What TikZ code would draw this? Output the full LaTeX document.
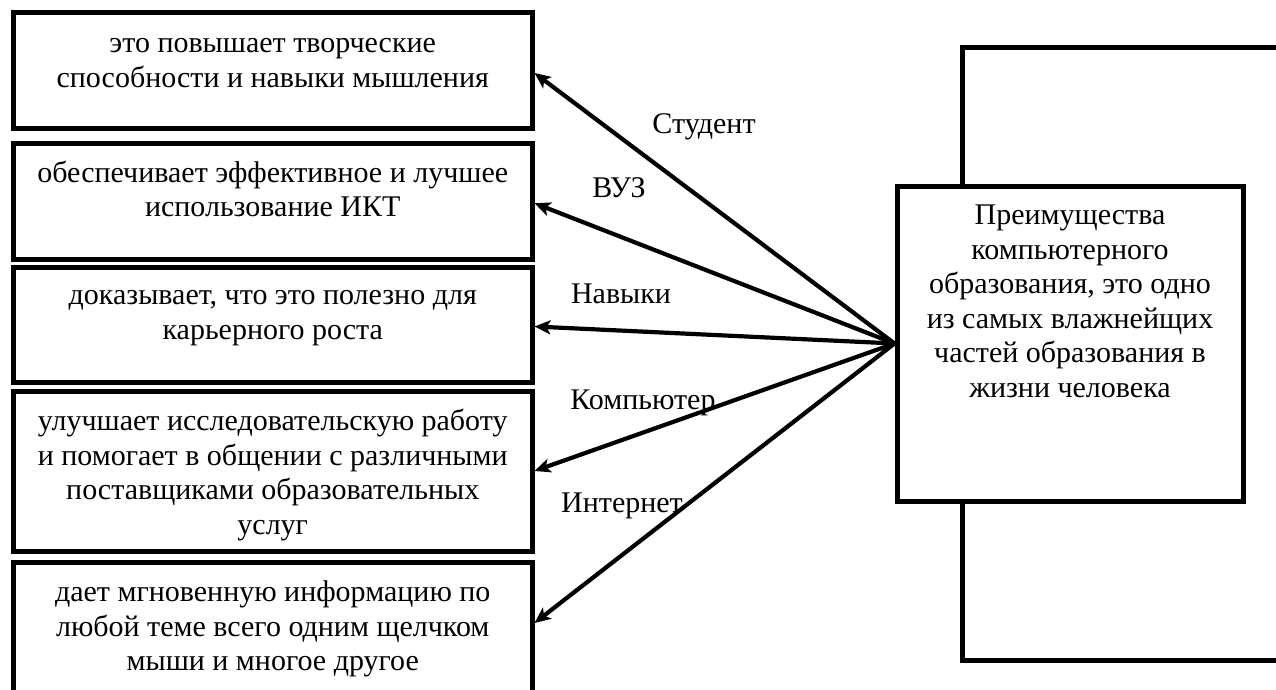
\documentclass[tikz,border=0pt]{standalone}
\usepackage{fontspec}
\setmainfont{Liberation Serif}
\usetikzlibrary{arrows.meta,calc}
\tikzset{
  box/.style={draw, line width=5pt, rectangle, inner sep=0pt, minimum width=518.5pt},
  txt/.style={align=center, font=\fontsize{30}{34.5}\selectfont, inner sep=0pt, anchor=north},
  lbl/.style={font=\fontsize{30}{34}\selectfont, inner sep=0pt, anchor=base},
  arr/.style={line width=4.2pt, -{Stealth[length=16pt,width=14pt,inset=4pt]}},
  frame/.style={line width=5pt}
}
\begin{document}
\begin{tikzpicture}[x=1pt,y=-1pt]
\useasboundingbox (0,0) rectangle (1276,690);
\clip (0,0) rectangle (1276,690);
% left boxes
\node[box, minimum height=116pt] (b1) at (272.75,71) {};
\node[box, minimum height=115.5pt] (b2) at (272.75,201.25) {};
\node[box, minimum height=115pt] (b3) at (272.75,324.5) {};
\node[box, minimum height=160pt] (b4) at (272.75,471) {};
\node[box, minimum height=158pt] (b5) at (272.75,641) {};
\node[txt] (t1) at ([yshift=-18pt]b1.north) {\strut это повышает творческие\\способности и навыки мышления};
\node[txt] (t2) at ([yshift=-17pt]b2.north) {\strut обеспечивает эффективное и лучшее\\использование ИКТ};
\node[txt] (t3) at ([yshift=-16pt]b3.north) {\strut доказывает, что это полезно для\\карьерного роста};
\node[txt] (t4) at ([yshift=-18pt]b4.north) {\strut улучшает исследовательскую работу\\и помогает в общении с различными\\поставщиками образовательных\\услуг};
\node[txt] (t5) at ([yshift=-18pt]b5.north) {\strut дает мгновенную информацию по\\любой теме всего одним щелчком\\мыши и многое другое};
% central box
\node[box, minimum width=346pt, minimum height=315pt] (c) at (1070,343.5) {};
\node[txt] (ct) at ([yshift=-17pt]c.north) {\strut Преимущества\\компьютерного\\образования, это одно\\из самых влажнейщих\\частей образования в\\жизни человека};
% bracket lines
\coordinate (bt) at (962,48);
\coordinate (bb) at (962,660);
\coordinate (rt) at (1290,48);
\coordinate (rb) at (1290,660);
\draw[frame] (rt) -- (bt) -- (bt |- c.north);
\draw[frame] (bb |- c.south) -- (bb) -- (rb);
% arrows
\draw[arr] (c.west) -- ([yshift=-2pt]b1.east);
\draw[arr] (c.west) -- ([yshift=-2pt]b2.east);
\draw[arr] (c.west) -- ([yshift=-2pt]b3.east);
\draw[arr] (c.west) -- (b4.east);
\draw[arr] (c.west) -- ([yshift=18pt]b5.east);
% labels
\node[lbl] (l1) at (704,133) {Студент};
\node[lbl] (l2) at (619,197) {ВУЗ};
\node[lbl] (l3) at (621,303) {Навыки};
\node[lbl] (l4) at (643,409) {Компьютер};
\node[lbl] (l5) at (622,512) {Интернет};
\end{tikzpicture}
\end{document}
